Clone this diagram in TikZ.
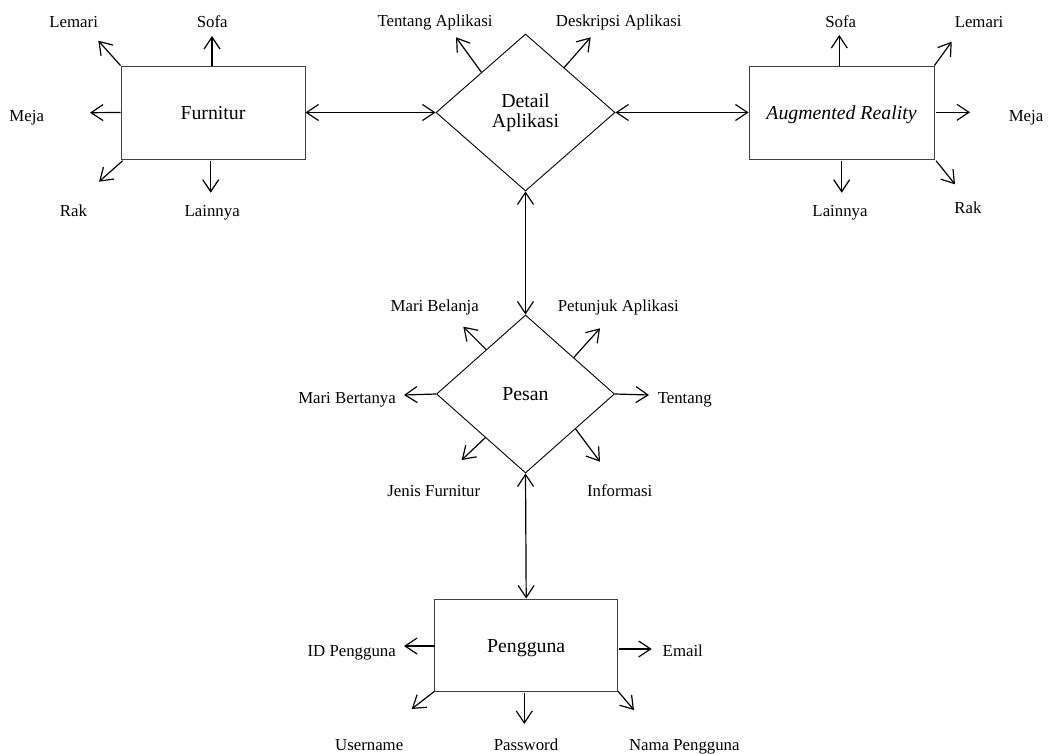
\documentclass[tikz,border=0pt]{standalone}
\usepackage{fontspec}
\setmainfont{Liberation Serif}
\usetikzlibrary{arrows.meta,shapes.geometric,calc}
\begin{document}
\begin{tikzpicture}[x=1pt,y=-1pt,
  lbl/.style={anchor=base,inner sep=0pt,font=\fontsize{16.8}{20}\selectfont},
  entity/.style={draw=black!75,line width=0.9pt,inner sep=0pt,text height=14pt,text depth=0pt,font=\fontsize{19.8}{20.3}\selectfont},
  relation/.style={shape=diamond,draw=black,line width=0.9pt,inner sep=0pt,align=center,font=\fontsize{19.8}{20.3}\selectfont},
  tipbarb/.tip={Straight Barb[length=12pt,width=16pt]},
  arr/.style={-tipbarb,line width=1.2pt},
  biarr/.style={tipbarb-tipbarb,line width=1.2pt}]
\useasboundingbox (0,0) rectangle (1049,754);

% main nodes
\node[entity,minimum width=184pt,minimum height=93pt] (furn) at (213,112.5) {Furnitur};
\node[entity,minimum width=185pt,minimum height=93pt] (ar) at (841.5,112.5) {\textit{Augmented Reality}};
\node[entity,minimum width=183pt,minimum height=92pt] (usr) at (526.2,645) {Pengguna};
\node[relation,minimum width=179pt,minimum height=157pt] (det) at (525.5,112.5) {\strut Detail\\Aplikasi};
\node[relation,minimum width=178pt,minimum height=158pt] (pes) at (525.5,394) {Pesan};

% main connectors
\draw[biarr] (furn.east) -- (det.west);
\draw[biarr] (det.east) -- (ar.west);
\draw[biarr] (det.south) -- (pes.north);
\draw[biarr] (pes.south) -- (usr.north);

% Furnitur attributes
\node[lbl] (fLemari) at (73.7,27.3) {Lemari};
\node[lbl] (fSofa) at (212.2,27.3) {Sofa};
\node[lbl] (fMeja) at (26.7,122) {Meja};
\node[lbl] (fRak) at (73.5,216) {Rak};
\node[lbl] (fLain) at (212.2,216) {Lainnya};
\coordinate (tfLemari) at (98.3,40.7);
\coordinate (tfSofa) at (212,36);
\coordinate (tfMeja) at (90,112.7);
\coordinate (tfRak) at (99,181.7);
\coordinate (tfLain) at (210.7,192.7);
\draw[arr] (furn.north west) -- (tfLemari);
\draw[arr] (212,66) -- (tfSofa);
\draw[arr] (furn.west) -- (tfMeja);
\draw[arr] (122.7,160.7) -- (tfRak);
\draw[arr] (210.7,160.7) -- (tfLain);

% Detail Aplikasi attributes
\node[lbl] (dTentang) at (435,27) {Tentang Aplikasi};
\node[lbl] (dDesk) at (618.7,27) {Deskripsi Aplikasi};
\coordinate (tdTentang) at (456,37.3);
\coordinate (tdDesk) at (590.7,37.3);
\draw[arr] ($(det.west)!0.51!(det.north)$) -- (tdTentang);
\draw[arr] ($(det.north)!0.43!(det.east)$) -- (tdDesk);

% Augmented Reality attributes
\node[lbl] (aSofa) at (840.7,27.3) {Sofa};
\node[lbl] (aLemari) at (979,27.3) {Lemari};
\node[lbl] (aMeja) at (1026,121.7) {Meja};
\node[lbl] (aRak) at (968,213.3) {Rak};
\node[lbl] (aLain) at (840,216) {Lainnya};
\coordinate (taSofa) at (839.3,35);
\coordinate (taLemari) at (951.7,41.7);
\coordinate (taMeja) at (970,112.3);
\coordinate (taRak) at (955,184.3);
\coordinate (taLain) at (841.7,192.7);
\draw[arr] (839.3,66) -- (taSofa);
\draw[arr] (ar.north east) -- (taLemari);
\draw[arr] (936,112.3) -- (taMeja);
\draw[arr] (936,160.7) -- (taRak);
\draw[arr] (841.7,160.7) -- (taLain);

% Pesan attributes
\node[lbl] (pBelanja) at (434.7,311.7) {Mari Belanja};
\node[lbl] (pPetunjuk) at (618.3,311.7) {Petunjuk Aplikasi};
\node[lbl] (pBertanya) at (347,403.3) {Mari Bertanya};
\node[lbl] (pTentang) at (684.7,403.3) {Tentang};
\node[lbl] (pJenis) at (433.8,496.7) {Jenis Furnitur};
\node[lbl] (pInfo) at (619.7,496.7) {Informasi};
\coordinate (tpBelanja) at (463.3,326.7);
\coordinate (tpPetunjuk) at (600,328.3);
\coordinate (tpBertanya) at (404,395);
\coordinate (tpTentang) at (649,395);
\coordinate (tpJenis) at (461.7,460);
\coordinate (tpInfo) at (600,461.7);
\draw[arr] ($(pes.west)!0.56!(pes.north)$) -- (tpBelanja);
\draw[arr] ($(pes.north)!0.54!(pes.east)$) -- (tpPetunjuk);
\draw[arr] (pes.west) -- (tpBertanya);
\draw[arr] (pes.east) -- (tpTentang);
\draw[arr] ($(pes.west)!0.55!(pes.south)$) -- (tpJenis);
\draw[arr] ($(pes.south)!0.56!(pes.east)$) -- (tpInfo);

% Pengguna attributes
\node[lbl] (uID) at (351.7,656) {ID Pengguna};
\node[lbl] (uEmail) at (682.8,656) {Email};
\node[lbl] (uUser) at (369.2,750) {Username};
\node[lbl] (uPass) at (526,750) {Password};
\node[lbl] (uNama) at (684.3,750) {Nama Pengguna};
\coordinate (tuID) at (404,646);
\coordinate (tuEmail) at (651.7,649);
\coordinate (tuUser) at (411.7,709);
\coordinate (tuPass) at (524.3,724);
\coordinate (tuNama) at (634,710);
\draw[arr] (434.7,646) -- (tuID);
\draw[arr] (619.3,649) -- (tuEmail);
\draw[arr] (usr.south west) -- (tuUser);
\draw[arr] (524.3,693.3) -- (tuPass);
\draw[arr] (usr.south east) -- (tuNama);
\end{tikzpicture}
\end{document}
